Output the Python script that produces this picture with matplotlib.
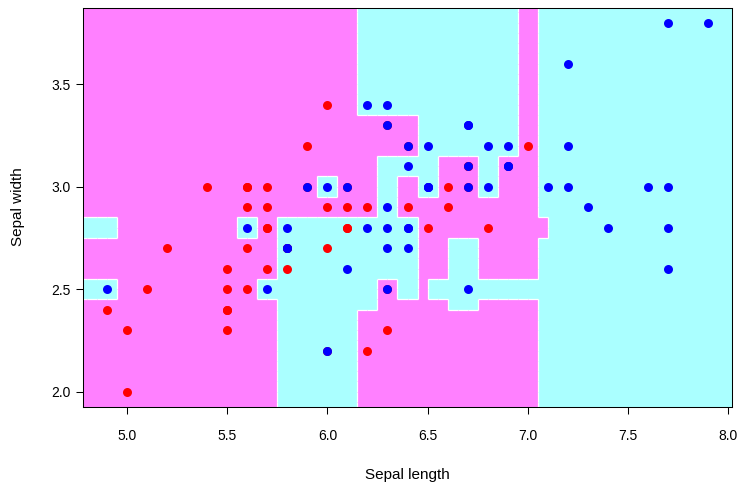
import numpy as np
import matplotlib
matplotlib.use("Agg")
import matplotlib.pyplot as plt
from matplotlib.collections import LineCollection
from matplotlib.colors import ListedColormap

plt.rcParams['font.family'] = ['Liberation Sans', 'DejaVu Sans']

# ---- data: iris versicolor (red) and virginica (blue) ----
versicolor_length = [7.0, 6.4, 6.9, 5.5, 6.5, 5.7, 6.3, 4.9, 6.6, 5.2, 5.0, 5.9, 6.0, 6.1, 5.6,
                     6.7, 5.6, 5.8, 6.2, 5.6, 5.9, 6.1, 6.3, 6.1, 6.4, 6.6, 6.8, 6.7, 6.0, 5.7,
                     5.5, 5.5, 5.8, 6.0, 5.4, 6.0, 6.7, 6.3, 5.6, 5.5, 5.5, 6.1, 5.8, 5.0, 5.6,
                     5.7, 5.7, 6.2, 5.1, 5.7]
versicolor_width = [3.2, 3.2, 3.1, 2.3, 2.8, 2.8, 3.3, 2.4, 2.9, 2.7, 2.0, 3.0, 2.2, 2.9, 2.9,
                    3.1, 3.0, 2.7, 2.2, 2.5, 3.2, 2.8, 2.5, 2.8, 2.9, 3.0, 2.8, 3.0, 2.9, 2.6,
                    2.4, 2.4, 2.7, 2.7, 3.0, 3.4, 3.1, 2.3, 3.0, 2.5, 2.6, 3.0, 2.6, 2.3, 2.7,
                    3.0, 2.9, 2.9, 2.5, 2.8]
virginica_length = [6.3, 5.8, 7.1, 6.3, 6.5, 7.6, 4.9, 7.3, 6.7, 7.2, 6.5, 6.4, 6.8, 5.7, 5.8,
                    6.4, 6.5, 7.7, 7.7, 6.0, 6.9, 5.6, 7.7, 6.3, 6.7, 7.2, 6.2, 6.1, 6.4, 7.2,
                    7.4, 7.9, 6.4, 6.3, 6.1, 7.7, 6.3, 6.4, 6.0, 6.9, 6.7, 6.9, 5.8, 6.8, 6.7,
                    6.7, 6.3, 6.5, 6.2, 5.9]
virginica_width = [3.3, 2.7, 3.0, 2.9, 3.0, 3.0, 2.5, 2.9, 2.5, 3.6, 3.2, 2.7, 3.0, 2.5, 2.8,
                   3.2, 3.0, 3.8, 2.6, 2.2, 3.2, 2.8, 2.8, 2.7, 3.3, 3.2, 2.8, 3.0, 2.8, 3.0,
                   2.8, 3.8, 2.8, 2.8, 2.6, 3.0, 3.4, 3.1, 3.0, 3.1, 3.1, 3.1, 2.7, 3.2, 3.3,
                   3.0, 2.5, 3.0, 3.4, 3.0]

# ---- predicted class regions (P = versicolor, C = virginica) ----
# grid of 0.05 x 0.05 cells, rows listed from top to bottom as (row count, run-length labels)
region_rows = [
    (11, "P28 C16 P2 C20"),
    (4,  "P34 C10 P2 C20"),
    (2,  "P30 C6 P4 C2 P4 C20"),
    (2,  "P24 C2 P4 C2 P2 C2 P4 C2 P4 C20"),
    (2,  "P30 C2 P14 C20"),
    (2,  "C4 P12 C2 P2 C14 P13 C19"),
    (4,  "P20 C14 P3 C3 P6 C20"),
    (2,  "C4 P14 C12 P2 C2 P1 C31"),
    (1,  "P20 C10 P7 C3 P6 C20"),
    (10, "P20 C8 P18 C20"),
]
grid_x_start, grid_y_start, grid_step = 4.75, 1.90, 0.05

x_ticks = [5.0, 5.5, 6.0, 6.5, 7.0, 7.5, 8.0]
y_ticks = [2.0, 2.5, 3.0, 3.5]

# ---- expand region grid ----
rows = []
for count, runs in region_rows:
    row = []
    for tok in runs.split():
        row += [1 if tok[0] == 'C' else 0] * int(tok[1:])
    rows += [row] * count
grid = np.array(rows[::-1])
nr, nc = grid.shape
xe = grid_x_start + grid_step * np.arange(nc + 1)
ye = grid_y_start + grid_step * np.arange(nr + 1)

fig = plt.figure(figsize=(7.4, 4.83), dpi=100)
ax = fig.add_axes([83 / 740, 1 - 406.5 / 483, (732 - 83) / 740, (406.5 - 7.9) / 483])

ax.pcolormesh(xe, ye, grid, cmap=ListedColormap(['#FF80FF', '#AAFFFF']), vmin=0, vmax=1,
              shading='flat', antialiased=False, zorder=0)

segs = []
for k in range(nr):
    for j in range(nc - 1):
        if grid[k, j] != grid[k, j + 1]:
            segs.append([(xe[j + 1], ye[k]), (xe[j + 1], ye[k + 1])])
for k in range(nr - 1):
    for j in range(nc):
        if grid[k, j] != grid[k + 1, j]:
            segs.append([(xe[j], ye[k + 1]), (xe[j + 1], ye[k + 1])])
ax.add_collection(LineCollection(segs, colors='white', linewidths=0.9, zorder=1))

ax.scatter(versicolor_length, versicolor_width, s=42, c='#FF0000', linewidths=0, zorder=3)
ax.scatter(virginica_length, virginica_width, s=42, c='#0000FF', linewidths=0, zorder=4)

ax.set_xlim(4.78, 8.02)
ax.set_ylim(1.928, 3.872)
ax.set_xticks(x_ticks)
ax.set_xticklabels([f"{v:.1f}" for v in x_ticks])
ax.set_yticks(y_ticks)
ax.set_yticklabels([f"{v:.1f}" for v in y_ticks])
ax.tick_params(direction='out', length=5, width=0.75, labelsize=10)
ax.tick_params(axis='x', pad=11)
ax.tick_params(axis='y', pad=4)
for s in ax.spines.values():
    s.set_linewidth(0.75)
    s.set_zorder(5)

fig.text(407.5 / 740, 1 - 475 / 483, "Sepal length", ha='center', va='center', fontsize=11)
fig.text(18 / 740, 1 - 207 / 483, "Sepal width", ha='center', va='center', rotation=90, fontsize=11)

fig.savefig("out.png", dpi=100)
